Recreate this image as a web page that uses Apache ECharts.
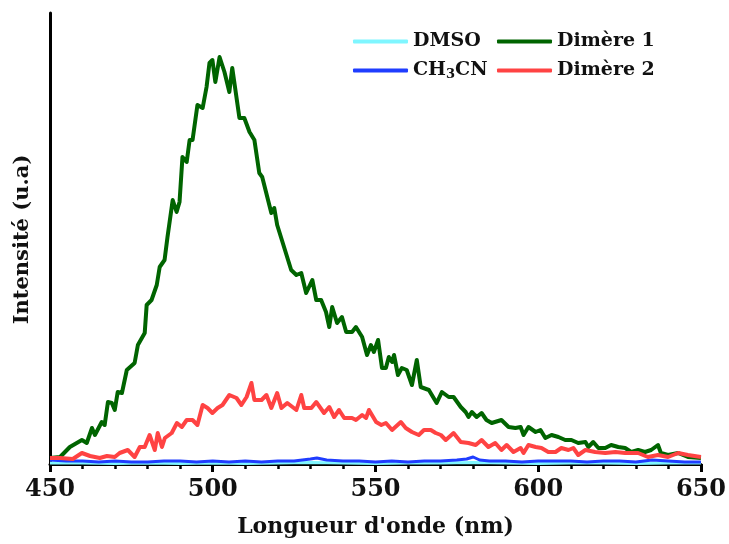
<!DOCTYPE html>
<html>
<head>
<meta charset="utf-8">
<script src="https://cdn.jsdelivr.net/npm/echarts@6/dist/echarts.min.js"></script>
<style>html,body{margin:0;padding:0;background:#fff}#c{width:729px;height:544px}</style>
</head>
<body>
<div id="c"></div>
<script>
// Wavelengths (nm) and intensities (a.u.)
var wlD1 = [450,453.1,456.1,459.8,461.3,462.9,463.8,465.9,466.8,467.8,469.0,469.9,470.8,472.1,473.6,476.0,477.0,479.1,479.7,481.2,482.8,483.7,485.2,486.1,487.7,488.9,489.8,490.7,492.0,492.9,493.8,495.3,496.9,498.1,499.0,499.9,500.8,502.1,503.6,505.1,506.0,508.2,509.7,511.3,512.8,514.3,515.2,518.0,518.9,519.8,522.0,524.1,525.7,527.2,528.7,530.6,531.8,533.3,534.8,535.8,536.7,538.2,539.7,541.0,542.8,544.0,545.9,547.4,548.6,549.5,550.8,552.0,553.2,554.1,555.1,555.7,556.9,558.1,559.6,561.2,562.7,563.9,566.4,568.8,570.4,572.5,574.0,576.2,577.7,578.6,579.6,581.1,582.6,584.1,585.7,588.7,590.9,593.0,594.6,595.5,597.0,599.2,600.7,602.2,604.1,606.2,608.3,610.2,612.3,614.5,615.4,616.9,618.5,620.6,622.4,624.6,626.7,628.6,630.7,632.8,634.7,636.8,637.7,639.9,643.0,646.0,650];
var intD1 = [6,7,17,24,21,36,29,42,39,62,61,54,72,71,94,101,119,131,159,164,179,197,204,227,264,252,262,307,302,324,324,359,356,377,401,404,382,407,392,372,396,346,346,332,324,291,287,251,256,239,216,194,189,191,171,184,164,164,152,137,157,141,147,132,132,137,127,109,119,112,124,96,96,107,102,109,89,96,94,79,104,77,74,61,72,67,67,57,52,47,52,47,51,44,41,44,37,36,37,29,37,32,34,26,29,27,24,24,21,22,17,22,16,16,19,17,16,12,14,12,14,19,11,9,11,7,6];

var wlD2 = [450,453.1,457.0,459.8,462.3,465.3,467.5,469.9,471.4,473.9,476.0,477.6,479.1,480.6,482.2,483.1,484.4,485.3,487.4,489.0,490.5,492.0,493.8,495.3,496.9,498.4,499.9,501.5,503.0,505.1,507.3,508.8,510.4,511.9,512.8,515.0,516.5,518.0,519.8,521.1,522.9,525.7,527.2,528.1,530.3,531.8,534.2,535.8,537.3,538.8,540.4,542.8,544.0,545.9,547.1,548.0,550.2,551.8,553.2,555.1,557.8,559.3,561.2,563.3,564.9,567.0,568.5,570.1,571.6,574.0,576.2,578.6,580.8,582.6,584.7,586.8,588.7,590.3,592.4,594.6,595.5,597.0,599.2,601.0,603.1,605.3,607.1,609.3,610.8,612.3,614.5,617.5,620.6,623.7,626.7,628.6,630.7,633.7,636.8,639.9,643.0,646.0,650];
var intD2 = [6,6,5,11,8,6,8,7,11,14,7,17,17,29,14,31,17,26,31,41,37,44,44,39,59,56,51,56,59,69,66,59,67,81,64,64,69,56,71,56,61,54,69,56,56,62,51,57,47,54,46,46,44,49,46,54,42,39,41,34,42,36,32,29,34,34,31,29,24,31,22,21,19,24,17,21,14,19,12,16,11,19,17,16,12,12,16,14,16,9,14,12,11,12,11,11,11,7,9,7,11,9,7];

var wlCH3CN = [450,455,460,465,470,475,480,485,490,495,500,505,510,515,520,525,530,532,535,540,545,550,555,560,565,570,575,578,580,582,585,590,595,600,605,610,615,620,625,630,635,640,645,650];
var intCH3CN = [4,3,3,2,3,2,2,3,3,2,3,2,3,2,3,3,5,6,4,3,3,2,3,2,3,3,4,5,7,4,3,3,2,3,3,3,2,3,3,2,4,3,2,2];

var wlDMSO = [450,460,470,480,490,500,510,520,530,540,550,560,570,580,590,600,610,620,630,640,650];
var intDMSO = [1,1,0.5,1,0.5,1,0.5,1,1.5,1,0.5,1,1,1.5,1,0.5,1,1,0.5,1,1];

var xTicks = [450,500,550,600,650];

function pairs(x, y){ var o=[]; for(var i=0;i<x.length;i++) o.push([x[i], y[i]]); return o; }

var F = 'DejaVu Serif';
var chart = echarts.init(document.getElementById('c'), null, {renderer:'canvas'});
var legendRich = {
  n: {fontFamily: F, fontWeight: 'bold', fontSize: 19, lineHeight: 22, color: '#111'},
  s: {fontFamily: F, fontWeight: 'bold', fontSize: 13, lineHeight: 12, verticalAlign: 'bottom', color: '#111'}
};
function legFmt(name){ return name === 'CH3CN' ? '{n|CH}{s|3}{n|CN}' : '{n|' + name + '}'; }
var legendBase = {
  orient: 'vertical', top: 32, padding: 0, itemWidth: 55, itemHeight: 4, itemGap: 10,
  icon: 'roundRect', formatter: legFmt,
  textStyle: {rich: legendRich}
};
chart.setOption({
  animation: false,
  backgroundColor: '#fff',
  grid: {left: 50, right: 24, top: 13, bottom: 78, containLabel: false},
  legend: [
    Object.assign({}, legendBase, {left: 353, data: ['DMSO', 'CH3CN']}),
    Object.assign({}, legendBase, {left: 497, data: ['Dimère 1', 'Dimère 2']})
  ],
  xAxis: {
    type: 'value', min: xTicks[0], max: xTicks[xTicks.length-1], interval: 50,
    name: "Longueur d'onde (nm)", nameLocation: 'middle', nameGap: 50,
    nameTextStyle: {fontFamily: F, fontWeight: 'bold', fontSize: 22, color: '#111'},
    axisLine: {lineStyle: {color: '#000', width: 3}},
    axisTick: {show: true, length: 8, lineStyle: {color: '#000', width: 3}},
    minorTick: {show: true, splitNumber: 5, length: 5, lineStyle: {color: '#000', width: 2.5}},
    axisLabel: {fontFamily: F, fontWeight: 'bold', fontSize: 24, color: '#111', margin: 12},
    splitLine: {show: false}
  },
  yAxis: {
    type: 'value', min: -2, max: 451,
    name: 'Intensité (u.a)', nameLocation: 'middle', nameGap: 17,
    nameTextStyle: {fontFamily: F, fontWeight: 'bold', fontSize: 21, color: '#111'},
    axisLine: {show: true, lineStyle: {color: '#000', width: 3}},
    axisTick: {show: false}, axisLabel: {show: false}, splitLine: {show: false}
  },
  series: [
    {name: 'DMSO', type: 'line', showSymbol: false, symbol: 'none', color: '#7ff6ff',
     lineStyle: {width: 3, color: '#7ff6ff', join: 'round'}, data: pairs(wlDMSO, intDMSO)},
    {name: 'CH3CN', type: 'line', showSymbol: false, symbol: 'none', color: '#1f3dff',
     lineStyle: {width: 3, color: '#1f3dff', join: 'round'}, data: pairs(wlCH3CN, intCH3CN)},
    {name: 'Dimère 1', type: 'line', showSymbol: false, symbol: 'none', color: '#006400',
     lineStyle: {width: 4, color: '#006400', join: 'round'}, data: pairs(wlD1, intD1)},
    {name: 'Dimère 2', type: 'line', showSymbol: false, symbol: 'none', color: '#ff4343',
     lineStyle: {width: 4, color: '#ff4343', join: 'round'}, data: pairs(wlD2, intD2)}
  ]
});
</script>
</body>
</html>
